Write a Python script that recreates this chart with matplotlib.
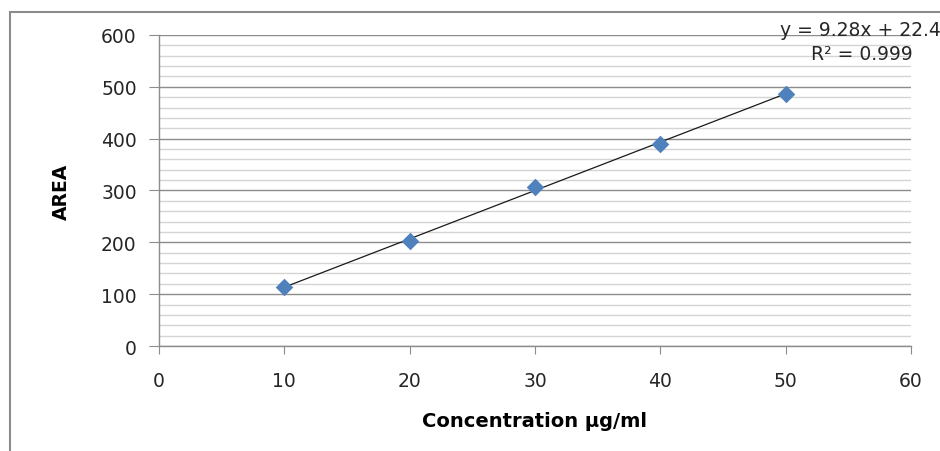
import numpy as np
import matplotlib
matplotlib.use('Agg')
from matplotlib import pyplot as plt
from matplotlib.patches import Rectangle
from matplotlib.ticker import MultipleLocator

# calibration data
conc = [10, 20, 30, 40, 50]
area = [114, 203, 306, 390, 487]
eq_text = 'y = 9.28x + 22.4'
r2_text = 'R² = 0.999'

plt.rcParams['font.family'] = ['DejaVu Sans']

fig = plt.figure(figsize=(9.4, 4.52), dpi=100)
ax = fig.add_axes([0.1691, 0.2323, 0.800, 0.6881])

# outer chart border (excel style)
fig.patches.append(Rectangle((10 / 940, -0.1), 1.2, (452 - 13) / 452 + 0.1,
                             transform=fig.transFigure, fill=False,
                             edgecolor='#8c8c8c', linewidth=1.5))

# linear trendline
slope, intercept = np.polyfit(conc, area, 1)
xs = np.array([min(conc), max(conc)])
ax.plot(xs, slope * xs + intercept, color='#1a1a1a', linewidth=0.9, zorder=3)

ax.scatter(conc, area, marker='D', s=80, color='#4f81bd', zorder=4,
           linewidths=0)

ax.set_xlim(0, 60)
ax.set_ylim(0, 600)
ax.xaxis.set_major_locator(MultipleLocator(10))
ax.yaxis.set_major_locator(MultipleLocator(100))
ax.yaxis.set_minor_locator(MultipleLocator(20))

ax.grid(which='major', axis='y', color='#8c8c8c', linewidth=1.0)
ax.grid(which='minor', axis='y', color='#d4d4d4', linewidth=1.0)
ax.set_axisbelow(True)

for side in ['top', 'right']:
    ax.spines[side].set_visible(False)
for side in ['left', 'bottom']:
    ax.spines[side].set_color('#8c8c8c')
    ax.spines[side].set_linewidth(1.0)

ax.tick_params(axis='y', which='major', length=7, color='#8c8c8c',
               labelsize=13.5, pad=9, labelcolor='#262626')
ax.tick_params(axis='y', which='minor', length=0)
ax.tick_params(axis='x', which='major', length=6, color='#8c8c8c',
               labelsize=13.5, pad=12, labelcolor='#262626')

ax.set_xlabel('Concentration µg/ml', fontsize=14, fontweight='bold',
              labelpad=15)
ax.set_ylabel('AREA', fontsize=13.5, fontweight='bold', labelpad=22)

fig.text(941 / 940, 1 - 31 / 452, eq_text, ha='right', va='center',
         fontsize=13.5, color='#262626')
fig.text(913 / 940, 1 - 54 / 452, r2_text, ha='right', va='center',
         fontsize=13.5, color='#262626')

fig.savefig('out.png', dpi=100)
